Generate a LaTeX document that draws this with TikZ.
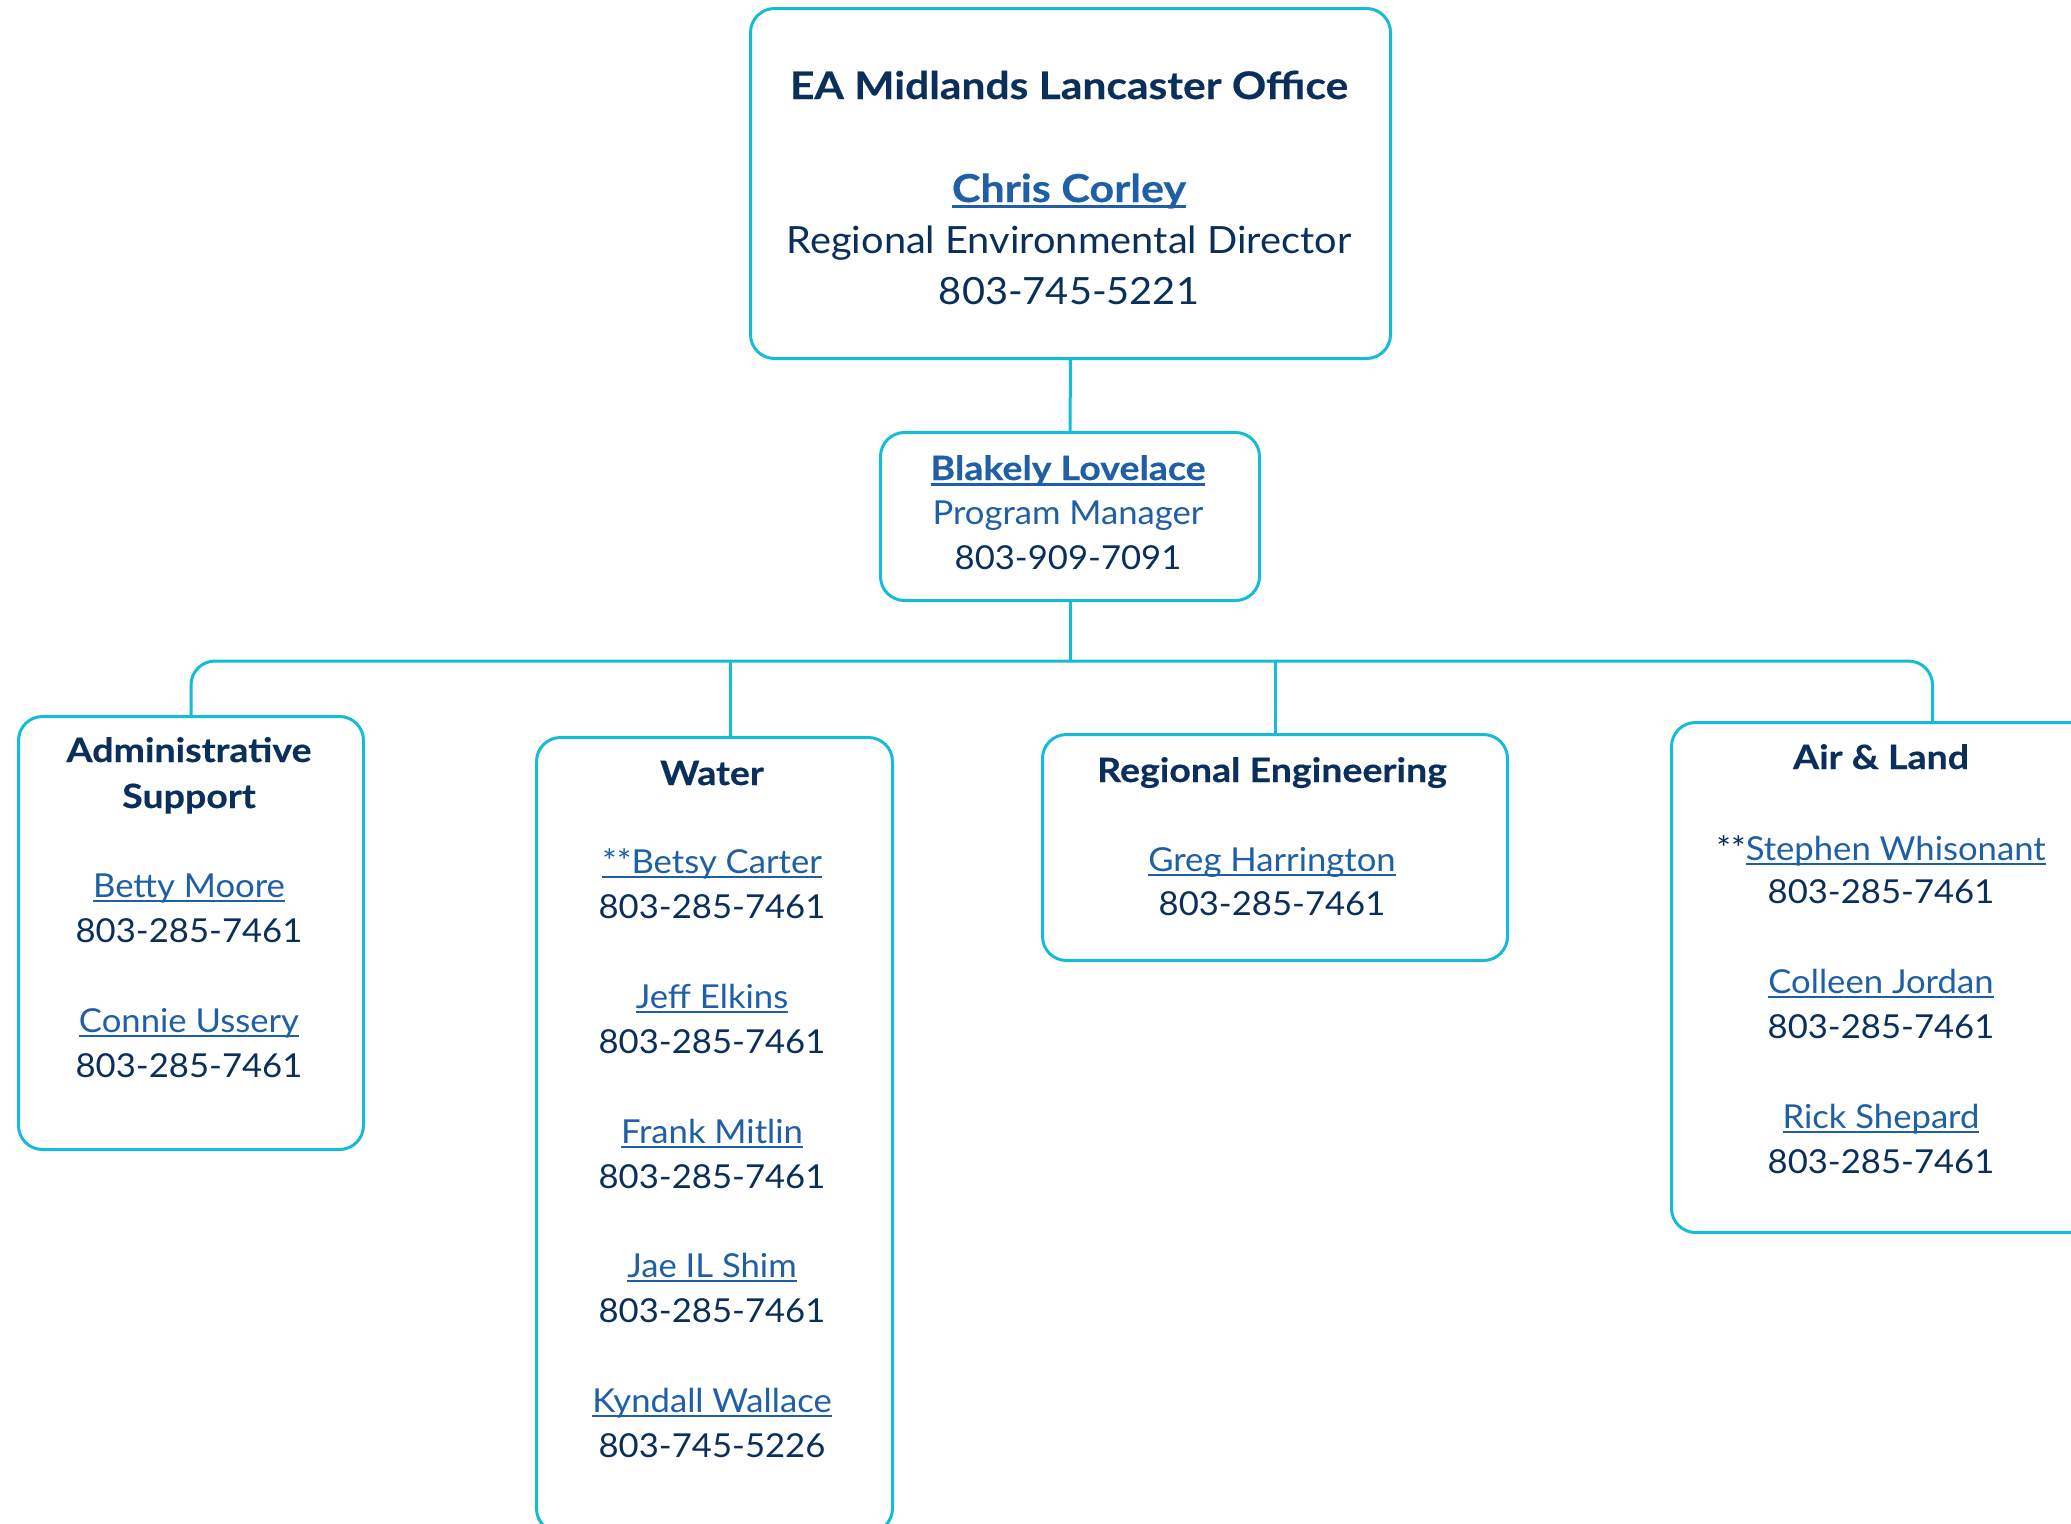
\documentclass[tikz,border=0pt]{standalone}
\usepackage{fontspec}
\setmainfont{Lato}[FakeStretch=1.05]
\newfontfamily\boldf{Lato}[FakeStretch=1.12, FakeBold=0.4]
\newfontfamily\topf{Lato}[FakeStretch=1.06]
\definecolor{navy}{HTML}{0B2F5B}
\definecolor{linkblue}{HTML}{1F5FA5}
\definecolor{boxcyan}{HTML}{14BCD8}
\newsavebox\lnkbox
\newcommand\lnk[1]{{\color{linkblue}\sbox\lnkbox{#1}\rlap{\rule[-4.8pt]{\wd\lnkbox}{2.2pt}}\usebox\lnkbox}}
\newcommand\blnk[1]{{\color{linkblue}\sbox\lnkbox{#1}\rlap{\rule[-6pt]{\wd\lnkbox}{3.4pt}}\usebox\lnkbox}}
\tikzset{
  box/.style={draw=boxcyan, line width=3pt, rounded corners=24pt, inner sep=0pt, anchor=north west},
  conn/.style={draw=boxcyan, line width=3pt},
  txt/.style={anchor=base, inner sep=0pt, text=navy, font=\fontsize{33}{40}\selectfont},
  ttl/.style={txt, font=\boldf\bfseries\fontsize{33.5}{40}\selectfont},
  bigtxt/.style={txt, font=\topf\fontsize{37.5}{44}\selectfont},
  bigttl/.style={txt, font=\boldf\bfseries\fontsize{38}{46}\selectfont},
}
\begin{document}
\begin{tikzpicture}[x=1pt,y=-1pt]
\useasboundingbox (0,0) rectangle (2071,1523);
\fill[white] (0,0) rectangle (2071,1523);
\clip (0,0) rectangle (2071,1523);
% boxes
\node[box, minimum width=640pt, minimum height=350pt] (top) at (749,7) {};
\node[box, minimum width=379pt, minimum height=168pt] (bl) at (879,431) {};
\node[box, minimum width=345pt, minimum height=433pt] (adm) at (17,715) {};
\node[box, minimum width=356pt, minimum height=795pt] (water) at (535,736) {};
\node[box, minimum width=465pt, minimum height=226pt] (reg) at (1041,733) {};
\node[box, minimum width=522pt, minimum height=510pt] (air) at (1670,721) {};
% connectors
\coordinate (bus) at (1065,661);
\draw[conn] (top.south) -- (bl.north);
\draw[conn] (bl.south) -- (bl.south |- bus);
\draw[conn, rounded corners=24pt] (adm.north) |- (bus) -| (air.north);
\draw[conn] ([xshift=16pt]water.north) -- ([xshift=16pt]water.north |- bus);
\draw[conn] (reg.north) -- (reg.north |- bus);
% top box text
\node[bigttl] (t1) at (1069,99) {EA Midlands Lancaster Office};
\node[bigttl, font=\boldf\bfseries\fontsize{38.5}{44}\selectfont] (t2) at (1069,202) {\blnk{Chris Corley}};
\node[bigtxt] (t3) at (1069,253) {Regional Environmental Director};
\node[bigtxt] (t4) at (1069,304) {803-745-5221};
% Blakely
\node[ttl] (b1) at (1068,480) {\blnk{Blakely Lovelace}};
\node[txt, text=linkblue] (b2) at (1068,524) {Program Manager};
\node[txt] (b3) at (1068,569) {803-909-7091};
% Admin
\node[ttl] (a1) at (189,762) {Administrative};
\node[ttl] (a2) at (189,808) {Support};
\node[txt] (a3) at (189,897) {\lnk{Betty Moore}};
\node[txt] (a4) at (189,942) {803-285-7461};
\node[txt] (a5) at (189,1032) {\lnk{Connie Ussery}};
\node[txt] (a6) at (189,1077) {803-285-7461};
% Water
\node[ttl] (w0) at (712,785) {Water};
\node[txt] (w1) at (712,873) {\lnk{**Betsy Carter}};
\node[txt] (w2) at (712,918) {803-285-7461};
\node[txt] (w3) at (712,1008) {\lnk{Jeff Elkins}};
\node[txt] (w4) at (712,1053) {803-285-7461};
\node[txt] (w5) at (712,1143) {\lnk{Frank Mitlin}};
\node[txt] (w6) at (712,1188) {803-285-7461};
\node[txt] (w7) at (712,1277) {\lnk{Jae IL Shim}};
\node[txt] (w8) at (712,1322) {803-285-7461};
\node[txt] (w9) at (712,1412) {\lnk{Kyndall Wallace}};
\node[txt] (w10) at (712,1457) {803-745-5226};
% Regional Engineering
\node[ttl] (r0) at (1272,782) {Regional Engineering};
\node[txt] (r1) at (1272,871) {\lnk{Greg Harrington}};
\node[txt] (r2) at (1272,915) {803-285-7461};
% Air & Land
\node[ttl] (l0) at (1881,769) {Air \& Land};
\node[txt] (l1) at (1881,860) {**\lnk{Stephen Whisonant}};
\node[txt] (l2) at (1881,903) {803-285-7461};
\node[txt] (l3) at (1881,993) {\lnk{Colleen Jordan}};
\node[txt] (l4) at (1881,1038) {803-285-7461};
\node[txt] (l5) at (1881,1128) {\lnk{Rick Shepard}};
\node[txt] (l6) at (1881,1173) {803-285-7461};
\end{tikzpicture}
\end{document}
